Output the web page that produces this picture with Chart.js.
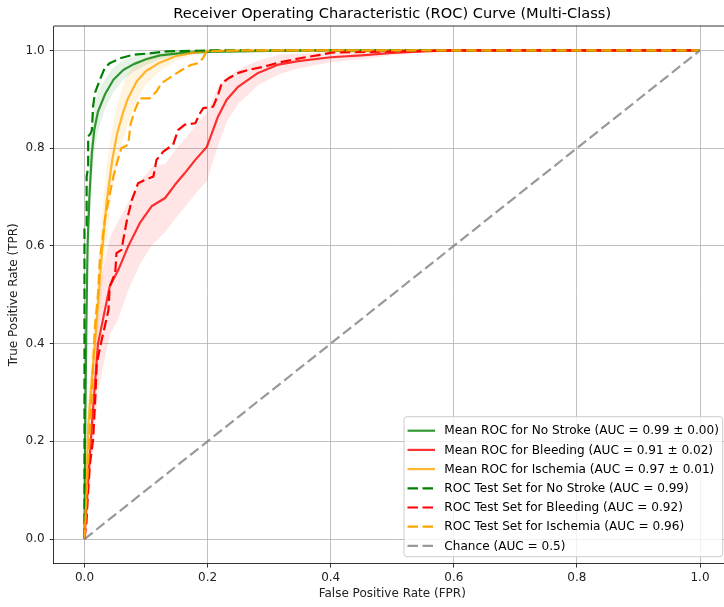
<!DOCTYPE html>
<html>
<head>
<meta charset="utf-8">
<script src="https://cdn.jsdelivr.net/npm/chart.js@4.4.1/dist/chart.umd.min.js"></script>
<style>
    html, body { margin: 0; padding: 0; background: #fff; }
    #wrap { width: 724px; height: 607px; overflow: hidden; position: relative; }
    canvas { display: block; }
</style>
</head>
<body>
<div id="wrap"><canvas id="roc" width="740" height="607"></canvas></div>
<script>
// ===== ROC curves (multi-class) =====

var TITLE = 'Receiver Operating Characteristic (ROC) Curve (Multi-Class)';
var X_LABEL = 'False Positive Rate (FPR)';
var Y_LABEL = 'True Positive Rate (TPR)';
var axisTicks = [0, 0.2, 0.4, 0.6, 0.8, 1.0];

// -- Mean ROC (cross-validation) + std --
var noStrokeMeanFpr = [0, 0.001, 0.003, 0.005, 0.008, 0.012, 0.016, 0.022, 0.034, 0.047, 0.063, 0.08, 0.1, 0.123, 0.16, 0.2, 0.3, 0.4, 1];
var noStrokeMeanTpr = [0, 0.2, 0.43, 0.6, 0.70, 0.79, 0.838, 0.875, 0.912, 0.94, 0.96, 0.972, 0.982, 0.99, 0.995, 0.997, 0.999, 1, 1];
var noStrokeStdTpr  = [0, 0.05, 0.08, 0.08, 0.07, 0.06, 0.05, 0.04, 0.03, 0.025, 0.02, 0.015, 0.012, 0.008, 0.005, 0.003, 0.001, 0, 0];

var bleedingMeanFpr = [0, 0.006, 0.013, 0.022, 0.041, 0.055, 0.071, 0.09, 0.109, 0.131, 0.147, 0.163, 0.18, 0.199, 0.207, 0.217, 0.231, 0.25, 0.282, 0.315, 0.347, 0.4, 0.45, 0.5, 0.55, 0.6, 1];
var bleedingMeanTpr = [0, 0.12, 0.25, 0.40, 0.517, 0.551, 0.599, 0.647, 0.681, 0.698, 0.725, 0.749, 0.776, 0.803, 0.831, 0.865, 0.899, 0.926, 0.954, 0.971, 0.978, 0.986, 0.99, 0.995, 0.998, 1, 1];
var bleedingStdTpr  = [0, 0.05, 0.08, 0.10, 0.10, 0.10, 0.09, 0.085, 0.08, 0.07, 0.07, 0.07, 0.07, 0.07, 0.065, 0.06, 0.045, 0.035, 0.025, 0.02, 0.015, 0.01, 0.008, 0.005, 0.002, 0, 0];

var ischemiaMeanFpr = [0, 0.003, 0.006, 0.012, 0.017, 0.028, 0.036, 0.045, 0.053, 0.062, 0.07, 0.085, 0.1, 0.122, 0.148, 0.175, 0.2, 0.3, 1];
var ischemiaMeanTpr = [0, 0.1, 0.23, 0.33, 0.40, 0.58, 0.69, 0.775, 0.83, 0.87, 0.90, 0.937, 0.958, 0.975, 0.988, 0.995, 0.999, 1, 1];
var ischemiaStdTpr  = [0, 0.03, 0.05, 0.06, 0.07, 0.08, 0.075, 0.065, 0.058, 0.055, 0.052, 0.038, 0.028, 0.018, 0.01, 0.005, 0.002, 0, 0];

// -- Test set ROC --
var noStrokeTestFpr = [0, 0, 0.0035, 0.0035, 0.006, 0.006, 0.01, 0.012, 0.014, 0.017, 0.025, 0.033, 0.041, 0.058, 0.079, 0.106, 0.134, 0.2, 1];
var noStrokeTestTpr = [0, 0.64, 0.64, 0.742, 0.76, 0.824, 0.83, 0.837, 0.885, 0.913, 0.94, 0.964, 0.974, 0.984, 0.991, 0.994, 0.998, 1, 1];

var bleedingTestFpr = [0, 0.003, 0.006, 0.009, 0.014, 0.018, 0.02, 0.028, 0.033, 0.039, 0.041, 0.05, 0.052, 0.06, 0.069, 0.077, 0.087, 0.098, 0.112, 0.117, 0.128, 0.144, 0.152, 0.163, 0.18, 0.188, 0.193, 0.209, 0.217, 0.223, 0.234, 0.25, 0.266, 0.293, 0.315, 0.35, 0.383, 0.404, 0.5, 0.6, 1];
var bleedingTestTpr = [0, 0.03, 0.1, 0.156, 0.203, 0.3, 0.36, 0.408, 0.435, 0.469, 0.517, 0.545, 0.585, 0.592, 0.653, 0.694, 0.728, 0.735, 0.742, 0.776, 0.793, 0.807, 0.837, 0.848, 0.851, 0.872, 0.882, 0.885, 0.909, 0.933, 0.943, 0.954, 0.96, 0.967, 0.975, 0.984, 0.991, 0.996, 0.998, 1, 1];

var ischemiaTestFpr = [0, 0.002, 0.006, 0.012, 0.017, 0.022, 0.025, 0.033, 0.04, 0.047, 0.055, 0.06, 0.071, 0.075, 0.082, 0.09, 0.106, 0.117, 0.125, 0.142, 0.158, 0.172, 0.185, 0.193, 0.198, 0.25, 1];
var ischemiaTestTpr = [0, 0.05, 0.16, 0.30, 0.435, 0.50, 0.571, 0.653, 0.70, 0.742, 0.78, 0.80, 0.807, 0.85, 0.878, 0.902, 0.902, 0.916, 0.933, 0.947, 0.96, 0.97, 0.974, 0.985, 0.998, 1, 1];

var chanceFpr = [0, 1];
var chanceTpr = [0, 1];

var meanLabels = [
    'Mean ROC for No Stroke (AUC = 0.99 \u00b1 0.00)',
    'Mean ROC for Bleeding (AUC = 0.91 \u00b1 0.02)',
    'Mean ROC for Ischemia (AUC = 0.97 \u00b1 0.01)'
];
var testLabels = [
    'ROC Test Set for No Stroke (AUC = 0.99)',
    'ROC Test Set for Bleeding (AUC = 0.92)',
    'ROC Test Set for Ischemia (AUC = 0.96)'
];
var chanceLabel = 'Chance (AUC = 0.5)';

(function() {
    'use strict';

    var FONT = 'DejaVu Sans';
    var DASH = [10.5, 4.5];
    var LW = 2.2;

    function pts(xs, ys) {
        var out = [];
        for (var i = 0; i < xs.length; i++) out.push({ x: xs[i], y: ys[i] });
        return out;
    }
    function band(xs, ys, sd, sign) {
        var out = [];
        for (var i = 0; i < xs.length; i++) {
            var v = ys[i] + sign * sd[i];
            out.push({ x: xs[i], y: Math.max(0, Math.min(1, v)) });
        }
        return out;
    }
    function line(label, data, color, dashed, order) {
        return {
            label: label, data: data, showLine: true, inLegend: true,
            borderColor: color, backgroundColor: color, borderWidth: LW,
            borderDash: dashed ? DASH : [], pointRadius: 0, tension: 0,
            fill: false, order: order, borderJoinStyle: 'round'
        };
    }
    function bandPair(xs, ys, sd, fillColor) {
        return [
            { data: band(xs, ys, sd, 1), showLine: true, borderWidth: 0, pointRadius: 0, fill: false, order: 20, borderColor: 'transparent' },
            { data: band(xs, ys, sd, -1), showLine: true, borderWidth: 0, pointRadius: 0, fill: '-1', order: 20, borderColor: 'transparent', backgroundColor: fillColor }
        ];
    }

    var datasets = [];
    datasets = datasets.concat(bandPair(noStrokeMeanFpr, noStrokeMeanTpr, noStrokeStdTpr, 'rgba(0,128,0,0.10)'));
    datasets = datasets.concat(bandPair(bleedingMeanFpr, bleedingMeanTpr, bleedingStdTpr, 'rgba(255,0,0,0.10)'));
    datasets = datasets.concat(bandPair(ischemiaMeanFpr, ischemiaMeanTpr, ischemiaStdTpr, 'rgba(255,165,0,0.12)'));
    datasets.push(line(meanLabels[0], pts(noStrokeMeanFpr, noStrokeMeanTpr), 'rgba(0,128,0,0.8)', false, 9));
    datasets.push(line(meanLabels[1], pts(bleedingMeanFpr, bleedingMeanTpr), 'rgba(255,0,0,0.8)', false, 8));
    datasets.push(line(meanLabels[2], pts(ischemiaMeanFpr, ischemiaMeanTpr), 'rgba(255,165,0,0.8)', false, 7));
    datasets.push(line(testLabels[0], pts(noStrokeTestFpr, noStrokeTestTpr), '#008000', true, 6));
    datasets.push(line(testLabels[1], pts(bleedingTestFpr, bleedingTestTpr), '#ff0000', true, 5));
    datasets.push(line(testLabels[2], pts(ischemiaTestFpr, ischemiaTestTpr), '#ffa500', true, 4));
    datasets.push(line(chanceLabel, pts(chanceFpr, chanceTpr), 'rgba(128,128,128,0.8)', true, 3));

    // frame, title and in-axes legend
    var decorPlugin = {
        id: 'decor',
        afterDraw: function(chart) {
            var ctx = chart.ctx, a = chart.chartArea;
            ctx.save();
            ctx.strokeStyle = '#000';
            ctx.lineWidth = 0.8;
            ctx.beginPath();
            ctx.moveTo(a.left, a.top); ctx.lineTo(a.right, a.top); ctx.lineTo(a.right, a.bottom);
            ctx.stroke();

            ctx.fillStyle = '#000';
            ctx.font = '14.6px "' + FONT + '"';
            ctx.textAlign = 'center';
            ctx.textBaseline = 'middle';
            ctx.fillText(TITLE, (a.left + a.right) / 2, 14);

            // legend box
            var bx = 404, by = 416.7, bw = 318.7, bh = 140, r = 3;
            ctx.beginPath();
            ctx.moveTo(bx + r, by);
            ctx.arcTo(bx + bw, by, bx + bw, by + bh, r);
            ctx.arcTo(bx + bw, by + bh, bx, by + bh, r);
            ctx.arcTo(bx, by + bh, bx, by, r);
            ctx.arcTo(bx, by, bx + bw, by, r);
            ctx.closePath();
            ctx.fillStyle = 'rgba(255,255,255,0.8)';
            ctx.fill();
            ctx.strokeStyle = '#cccccc';
            ctx.lineWidth = 1;
            ctx.stroke();

            var items = chart.data.datasets.filter(function(d) { return d.inLegend; });
            ctx.font = '12.1px "' + FONT + '"';
            ctx.textAlign = 'left';
            for (var i = 0; i < items.length; i++) {
                var d = items[i];
                var cy = 430.7 + i * 19.2;
                ctx.strokeStyle = d.borderColor;
                ctx.lineWidth = LW;
                ctx.setLineDash(d.borderDash);
                ctx.beginPath();
                ctx.moveTo(407.5, cy); ctx.lineTo(435, cy);
                ctx.stroke();
                ctx.setLineDash([]);
                ctx.fillStyle = '#000';
                ctx.fillText(d.label, 444.3, cy + 0.5);
            }
            ctx.restore();
        }
    };

    function tickFont() { return { family: FONT, size: 12 }; }

    new Chart(document.getElementById('roc'), {
        type: 'scatter',
        data: { datasets: datasets },
        plugins: [decorPlugin],
        options: {
            responsive: false, animation: false, devicePixelRatio: 1,
            layout: { padding: { left: 0, right: 9.2, top: 26, bottom: 0 } },
            plugins: { legend: { display: false }, title: { display: false }, tooltip: { enabled: false } },
            scales: {
                x: {
                    type: 'linear', min: -0.05, max: 1.05,
                    afterBuildTicks: function(s) { s.ticks = axisTicks.map(function(v) { return { value: v }; }); },
                    afterFit: function(s) { s.height = 43.5; },
                    ticks: { callback: function(v) { return v.toFixed(1); }, font: tickFont(), color: '#222', padding: 3, maxRotation: 0, autoSkip: false },
                    grid: { color: '#b0b0b0', lineWidth: 0.8, tickLength: 4, tickColor: '#000', tickWidth: 0.8 },
                    border: { color: '#000', width: 0.8 },
                    title: { display: true, text: X_LABEL, font: tickFont(), color: '#222', padding: { top: 0, bottom: 6 } }
                },
                y: {
                    type: 'linear', min: -0.05, max: 1.05,
                    afterBuildTicks: function(s) { s.ticks = axisTicks.map(function(v) { return { value: v }; }); },
                    afterFit: function(s) { s.width = 53.7; },
                    ticks: { callback: function(v) { return v.toFixed(1); }, font: tickFont(), color: '#222', padding: 5, autoSkip: false },
                    grid: { color: '#b0b0b0', lineWidth: 0.8, tickLength: 4, tickColor: '#000', tickWidth: 0.8 },
                    border: { color: '#000', width: 0.8 },
                    title: { display: true, text: Y_LABEL, font: tickFont(), color: '#222', padding: { top: 7, bottom: 0 } }
                }
            }
        }
    });
})();
</script>
</body>
</html>
